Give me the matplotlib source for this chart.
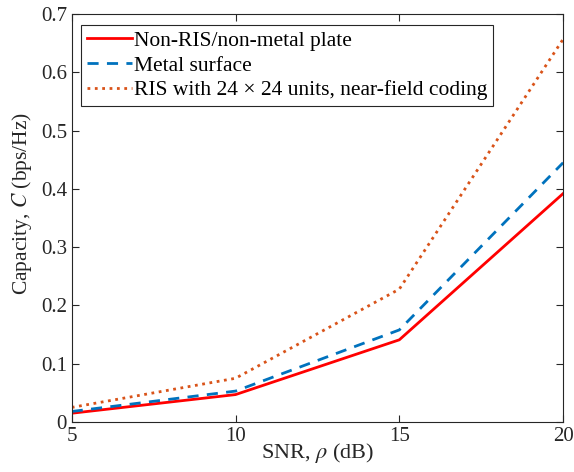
import matplotlib
matplotlib.use("Agg")
import matplotlib.pyplot as plt

# data
snr_db = [5, 10, 15, 20]
cap_plain = [0.015, 0.047, 0.141, 0.392]
cap_metal = [0.018, 0.053, 0.158, 0.445]
cap_ris = [0.025, 0.075, 0.228, 0.657]

labels = [
    "Non-RIS/non-metal plate",
    "Metal surface",
    "RIS with 24 \u00d7 24 units, near-field coding",
]

plt.rcParams["font.family"] = ["Liberation Serif", "DejaVu Serif"]
plt.rcParams["mathtext.fontset"] = "stix"
plt.rcParams["font.size"] = 15

fig = plt.figure(figsize=(5.74, 4.72), dpi=100)
ax = fig.add_axes([0.125, 0.106, 0.856, 0.864])

ax.plot(snr_db, cap_plain, "-", color="#ff0000", lw=2, label=labels[0])
ax.plot(snr_db, cap_metal, "--", color="#0072bd", lw=2, dashes=(4, 3), label=labels[1])
ax.plot(snr_db, cap_ris, ":", color="#d95319", lw=2, label=labels[2])

ax.set_xlim(5, 20)
ax.set_ylim(0, 0.7)
ax.set_xticks([5, 10, 15, 20])
ax.set_yticks([0, 0.1, 0.2, 0.3, 0.4, 0.5, 0.6, 0.7])
ax.set_yticklabels(["0", "0.1", "0.2", "0.3", "0.4", "0.5", "0.6", "0.7"])
ax.tick_params(direction="in", top=True, right=True, length=5, width=0.8,
               color="#262626", labelsize=15, labelcolor="#262626")
for s in ax.spines.values():
    s.set_color("#262626")
    s.set_linewidth(0.8)

ax.set_xlabel(r"SNR, $\rho$ (dB)", fontsize=16, color="#262626")
ax.set_ylabel(r"Capacity, $C$ (bps/Hz)", fontsize=15.5, color="#262626")
ax.xaxis.set_label_coords(0.5, -0.046)
ax.yaxis.set_label_coords(-0.076, 0.535)

leg = ax.legend(loc="upper left", bbox_to_anchor=(0.018, 0.974), borderaxespad=0,
                fontsize=15.5, handlelength=2.1, handletextpad=0.1,
                labelspacing=0.22, borderpad=0.28, fancybox=False, framealpha=1)
leg.get_frame().set_edgecolor("#262626")
leg.get_frame().set_linewidth(0.8)

fig.savefig("out.png", dpi=100)
